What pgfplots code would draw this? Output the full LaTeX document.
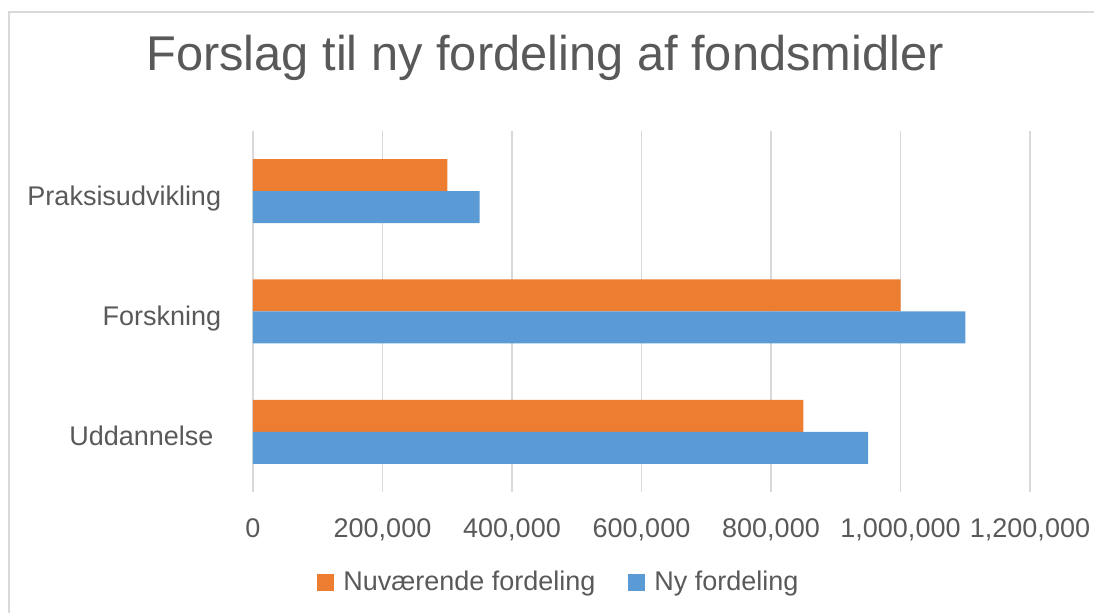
\documentclass[border=0pt]{standalone}
\usepackage{pgfplots}
\pgfplotsset{compat=1.18}
\usepackage{fontspec}
\setmainfont{Liberation Sans}
\definecolor{txt}{HTML}{595959}
\definecolor{gridc}{HTML}{D9D9D9}
\definecolor{orng}{HTML}{ED7D31}
\definecolor{blu}{HTML}{5B9BD5}
\begin{document}
\begin{tikzpicture}[x=0.5pt,y=0.5pt]
\useasboundingbox (0,0) rectangle (1094,613);
\draw[gridc, line width=1pt] (9,-5) -- (9,601) -- (1100,601);
\node[txt, font=\fontsize{24.4}{29}\selectfont, anchor=base, inner sep=0pt] at (545,542) {Forslag til ny fordeling af fondsmidler};
\begin{axis}[
  at={(126.5pt,60.5pt)}, anchor=south west,
  scale only axis, width=388.5pt, height=180.5pt,
  xmin=0, xmax=1200000, ymin=-0.5, ymax=2.5,
  xbar, bar width=16pt,
  axis line style={draw=none}, tick style={draw=none},
  xmajorgrids, grid style={gridc, line width=0.75pt},
  xtick={0,200000,400000,600000,800000,1000000,1200000},
  ytick={0,1,2}, yticklabels={Uddannelse\hspace*{0.28em},Forskning,Praksisudvikling},
  scaled x ticks=false,
  x tick label style={/pgf/number format/fixed, /pgf/number format/1000 sep={,}},
  /pgf/number format/assume math mode=true,
  tick label style={font=\fontsize{13.5}{16}\selectfont, text=txt},
  xticklabel style={anchor=base, yshift=-23pt, inner sep=0pt},
  yticklabel style={anchor=base east, inner sep=0pt, xshift=-11.5pt, yshift=-7pt},
  legend style={at={(0.395,-0.251)}, anchor=center, draw=none, fill=none,
    font=\fontsize{13.5}{16}\selectfont, text=txt, legend columns=2,
    /tikz/every even column/.append style={column sep=14.5pt}},
  legend cell align=left,
]
\addplot[fill=orng, draw=none, bar shift=8pt,
  legend image code/.code={\fill[orng] (0pt,-4.25pt) rectangle (8.5pt,4.25pt); \path (11pt,0pt);}]
  coordinates {(850000,0) (1000000,1) (300000,2)};
\addplot[fill=blu, draw=none, bar shift=-8pt,
  legend image code/.code={\fill[blu] (0pt,-4.25pt) rectangle (8.5pt,4.25pt); \path (11pt,0pt);}]
  coordinates {(950000,0) (1100000,1) (350000,2)};
\legend{Nuværende fordeling, Ny fordeling}
\end{axis}
\end{tikzpicture}
\end{document}
